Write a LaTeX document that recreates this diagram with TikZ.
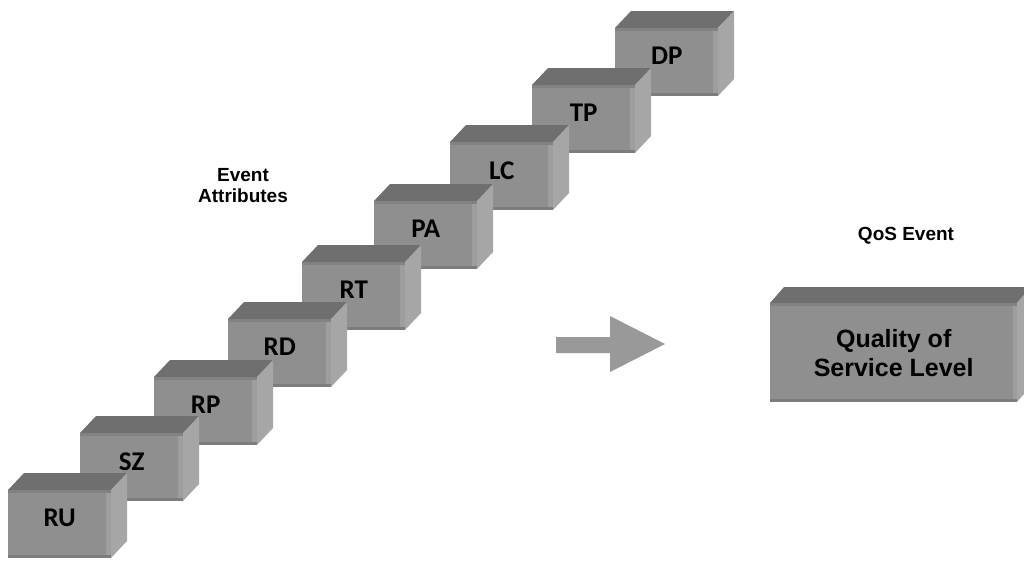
\documentclass[tikz,border=0pt]{standalone}
\usepackage{fontspec}
\setmainfont{Liberation Sans}
\newfontfamily\boxfont{Carlito}
\definecolor{topc}{RGB}{111,111,111}
\definecolor{frontc}{RGB}{143,143,143}
\definecolor{sidec}{RGB}{166,166,166}
\definecolor{rstripc}{RGB}{158,158,158}
\definecolor{bstripc}{RGB}{125,125,125}
\definecolor{tstripc}{RGB}{130,130,130}
\definecolor{arrowc}{RGB}{153,153,153}
\tikzset{
  evface/.style={rectangle, fill=frontc, inner sep=0pt, anchor=north west,
    minimum width=103pt, minimum height=68pt, text depth=12pt,
    font=\boxfont\bfseries\fontsize{27}{27}\selectfont},
  qosface/.style={rectangle, fill=frontc, inner sep=0pt, anchor=north west,
    minimum width=247pt, minimum height=99pt, align=center,
    font=\bfseries\fontsize{25}{29}\selectfont},
  caption/.style={align=center, font=\bfseries\fontsize{19}{21}\selectfont},
}
\newcommand\evbox[4]{%
  \fill[topc] (#2,#3) -- ++(16,-17) -- ++(103,0) -- ++(-16,17) -- cycle;
  \fill[sidec] (#2+103,#3) -- ++(16,-17) -- ++(0,68) -- ++(-16,17) -- cycle;
  \node[evface] (#1) at (#2,#3) {};
  \fill[rstripc] ([xshift=-5pt]#1.north east) rectangle (#1.south east);
  \fill[bstripc] (#1.south west) rectangle ([yshift=3pt]#1.south east);
  \fill[tstripc] (#1.north west) rectangle ([yshift=-3pt]#1.north east);
  \node[evface, fill=none] (#1-t) at (#2,#3) {#4};
}
\begin{document}
\begin{tikzpicture}[x=1pt,y=-1pt]
\useasboundingbox (0,0) rectangle (1024,560);
\evbox{dp}{615}{28}{DP}
\evbox{tp}{532}{85}{TP}
\evbox{lc}{450}{142}{LC}
\evbox{pa}{374}{201}{PA}
\evbox{rt}{302}{262}{RT}
\evbox{rd}{228}{319}{RD}
\evbox{rp}{154}{377}{RP}
\evbox{sz}{80}{433}{SZ}
\evbox{ru}{8}{490}{RU}
% QoS box
\fill[topc] (770,303) -- ++(14,-16) -- ++(247,0) -- ++(-14,16) -- cycle;
\fill[sidec] (1017,303) -- ++(14,-16) -- ++(0,99) -- ++(-14,16) -- cycle;
\node[qosface] (qos) at (770,303) {};
\fill[rstripc] ([xshift=-4pt]qos.north east) rectangle (qos.south east);
\fill[bstripc] (qos.south west) rectangle ([yshift=3pt]qos.south east);
\fill[tstripc] (qos.north west) rectangle ([yshift=-3pt]qos.north east);
\node[qosface, fill=none] (qost) at (770,303) {Quality of\\Service Level};
% arrow
\coordinate (a0) at (556,345);
\coordinate (a1) at (665,344);
\fill[arrowc] (556,337) -- (610,337) -- (610,316) -- (a1) -- (610,372) -- (610,353) -- (556,353) -- cycle;
% captions
\node[caption] (ea) at (243,186) {Event\\Attributes};
\node[caption] (qe) at (906,236) {QoS Event};
\end{tikzpicture}
\end{document}
